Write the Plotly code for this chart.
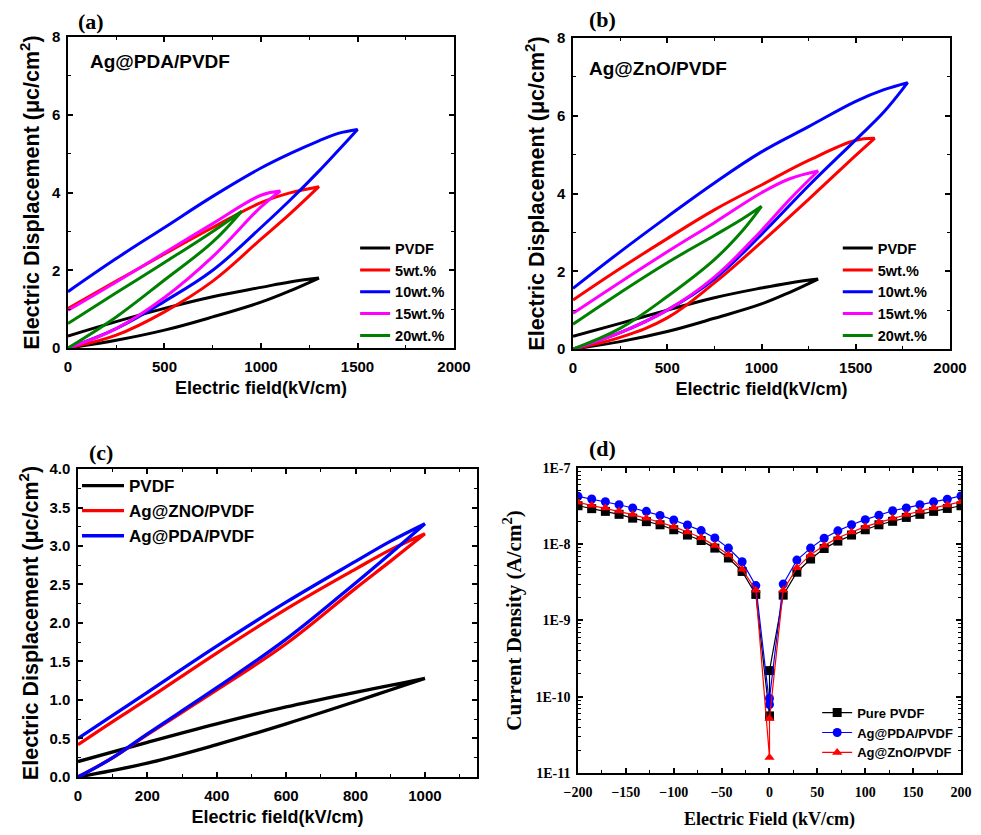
import plotly.graph_objects as go

# ---------------- Panel (a): Ag@PDA/PVDF hysteresis loops ----------------
A_PVDF_E = [0, 250, 500, 750, 1000, 1150, 1300]
A_PVDF_LO = [0, 0.2, 0.46, 0.8, 1.18, 1.47, 1.80]
A_PVDF_UP = [0.31, 0.68, 1.02, 1.32, 1.56, 1.70, 1.80]

A_5_E = [0, 250, 500, 750, 1000, 1150, 1300]
A_5_LO = [0, 0.33, 0.93, 1.72, 2.8, 3.45, 4.15]
A_5_UP = [1.02, 1.72, 2.42, 3.1, 3.74, 3.99, 4.15]

A_10_E = [0, 250, 500, 750, 1000, 1150, 1300, 1400, 1500]
A_10_LO = [0, 0.5, 1.2, 2.0, 3.1, 3.8, 4.55, 5.08, 5.62]
A_10_UP = [1.45, 2.3, 3.1, 3.9, 4.63, 5.0, 5.33, 5.52, 5.62]

A_15_E = [0, 250, 500, 750, 1000, 1100]
A_15_LO = [0, 0.5, 1.3, 2.35, 3.63, 4.04]
A_15_UP = [0.97, 1.7, 2.45, 3.2, 3.93, 4.04]

A_20_E = [0, 250, 500, 750, 900]
A_20_LO = [0, 0.8, 1.75, 2.73, 3.52]
A_20_UP = [0.63, 1.42, 2.2, 3.0, 3.52]

# ---------------- Panel (b): Ag@ZnO/PVDF hysteresis loops ----------------
B_PVDF_E = [0, 250, 500, 750, 1000, 1150, 1300]
B_PVDF_LO = [0, 0.19, 0.45, 0.79, 1.16, 1.46, 1.80]
B_PVDF_UP = [0.33, 0.66, 1.0, 1.32, 1.57, 1.70, 1.80]

B_5_E = [0, 250, 500, 750, 1000, 1250, 1500, 1600]
B_5_LO = [0, 0.3, 0.8, 1.7, 2.75, 3.85, 4.98, 5.42]
B_5_UP = [1.26, 2.07, 2.84, 3.58, 4.22, 4.85, 5.37, 5.42]

B_10_E = [0, 250, 500, 750, 1000, 1250, 1500, 1650, 1775]
B_10_LO = [0, 0.42, 1.0, 1.8, 2.95, 4.2, 5.38, 6.1, 6.85]
B_10_UP = [1.56, 2.5, 3.4, 4.27, 5.07, 5.72, 6.37, 6.67, 6.85]

B_15_E = [0, 250, 500, 750, 1000, 1150, 1300]
B_15_LO = [0, 0.42, 1.0, 1.85, 3.05, 3.85, 4.58]
B_15_UP = [0.92, 1.72, 2.5, 3.25, 4.02, 4.38, 4.58]

B_20_E = [0, 250, 500, 750, 900, 1000]
B_20_LO = [0, 0.53, 1.35, 2.3, 3.05, 3.67]
B_20_UP = [0.64, 1.45, 2.22, 2.92, 3.35, 3.67]

# ---------------- Panel (c): comparison at 1000 kV/cm ----------------
C_PVDF_E = [0, 200, 400, 600, 800, 900, 1000]
C_PVDF_LO = [0, 0.18, 0.42, 0.69, 0.98, 1.13, 1.28]
C_PVDF_UP = [0.2, 0.45, 0.69, 0.91, 1.1, 1.19, 1.28]

C_ZNO_E = [0, 100, 200, 400, 600, 800, 900, 1000]
C_ZNO_LO = [0, 0.25, 0.55, 1.13, 1.73, 2.45, 2.8, 3.16]
C_ZNO_UP = [0.42, 0.72, 1.01, 1.61, 2.18, 2.7, 2.95, 3.16]

C_PDA_E = [0, 100, 200, 400, 600, 800, 900, 1000]
C_PDA_LO = [0, 0.25, 0.56, 1.16, 1.79, 2.52, 2.9, 3.29]
C_PDA_UP = [0.5, 0.8, 1.1, 1.7, 2.27, 2.8, 3.06, 3.29]

# ---------------- Panel (d): leakage current density ----------------
D_FIELD = [-200, -185.7, -171.4, -157.1, -142.9, -128.6, -114.3, -100, -85.7, -71.4,
           -57.1, -42.9, -28.6, -14.3, 0, 0, 14.3, 28.6, 42.9, 57.1, 71.4, 85.7, 100,
           114.3, 128.6, 142.9, 157.1, 171.4, 185.7, 200]
D_PURE = [3.2e-8, 2.93e-8, 2.7e-8, 2.47e-8, 2.2e-8, 1.98e-8, 1.8e-8, 1.55e-8, 1.32e-8, 1.12e-8,
          8.9e-9, 6.6e-9, 4.4e-9, 2.2e-9, 5.6e-11, 2.2e-10, 2.15e-9, 4.3e-9, 6.4e-9, 8.8e-9,
          1.1e-8, 1.32e-8, 1.55e-8, 1.8e-8, 2.0e-8, 2.25e-8, 2.47e-8, 2.7e-8, 2.95e-8, 3.2e-8]
D_PDA = [4.25e-8, 3.92e-8, 3.61e-8, 3.30e-8, 2.99e-8, 2.70e-8, 2.39e-8, 2.08e-8, 1.79e-8, 1.51e-8,
         1.21e-8, 8.9e-9, 5.9e-9, 2.87e-9, 7.9e-11, 9.5e-11, 3.0e-9, 6.2e-9, 8.9e-9, 1.2e-8,
         1.5e-8, 1.8e-8, 2.1e-8, 2.4e-8, 2.75e-8, 3.0e-8, 3.3e-8, 3.6e-8, 3.9e-8, 4.3e-8]
D_ZNO = [3.55e-8, 3.24e-8, 3.0e-8, 2.73e-8, 2.45e-8, 2.19e-8, 1.94e-8, 1.7e-8, 1.45e-8, 1.22e-8,
         9.6e-9, 7.3e-9, 4.7e-9, 2.5e-9, 1.6e-11, 5.2e-11, 2.5e-9, 4.9e-9, 7.3e-9, 9.6e-9,
         1.22e-8, 1.45e-8, 1.7e-8, 1.94e-8, 2.19e-8, 2.45e-8, 2.73e-8, 3.0e-8, 3.27e-8, 3.6e-8]
D_TICKVALS = [1e-11, 1e-10, 1e-9, 1e-8, 1e-7]
D_TICKTEXT = ["1E-11", "1E-10", "1E-9", "1E-8", "1E-7"]

SANS = "Liberation Sans, Arial, sans-serif"
SERIF = "Liberation Serif, Times New Roman, serif"

fig = go.Figure()


def loop(E, lo, up):
    return list(E) + list(E[::-1]), list(lo) + list(up[::-1])


def add_loop(E, lo, up, name, color, xa, ya, leg, width=3):
    x, y = loop(E, lo, up)
    fig.add_trace(go.Scatter(x=x, y=y, mode="lines", name=name,
                             line=dict(color=color, width=width, shape="spline", smoothing=1.1),
                             xaxis=xa, yaxis=ya, legend=leg))


add_loop(A_PVDF_E, A_PVDF_LO, A_PVDF_UP, "PVDF", "black", "x", "y", "legend")
add_loop(A_5_E, A_5_LO, A_5_UP, "5wt.%", "#ff0000", "x", "y", "legend")
add_loop(A_10_E, A_10_LO, A_10_UP, "10wt.%", "#0000ff", "x", "y", "legend")
add_loop(A_15_E, A_15_LO, A_15_UP, "15wt.%", "#ff00ff", "x", "y", "legend")
add_loop(A_20_E, A_20_LO, A_20_UP, "20wt.%", "#008000", "x", "y", "legend")

add_loop(B_PVDF_E, B_PVDF_LO, B_PVDF_UP, "PVDF", "black", "x2", "y2", "legend2")
add_loop(B_5_E, B_5_LO, B_5_UP, "5wt.%", "#ff0000", "x2", "y2", "legend2")
add_loop(B_10_E, B_10_LO, B_10_UP, "10wt.%", "#0000ff", "x2", "y2", "legend2")
add_loop(B_15_E, B_15_LO, B_15_UP, "15wt.%", "#ff00ff", "x2", "y2", "legend2")
add_loop(B_20_E, B_20_LO, B_20_UP, "20wt.%", "#008000", "x2", "y2", "legend2")

add_loop(C_PVDF_E, C_PVDF_LO, C_PVDF_UP, "PVDF", "black", "x3", "y3", "legend3", 3.3)
add_loop(C_ZNO_E, C_ZNO_LO, C_ZNO_UP, "Ag@ZNO/PVDF", "#ff0000", "x3", "y3", "legend3", 3.3)
add_loop(C_PDA_E, C_PDA_LO, C_PDA_UP, "Ag@PDA/PVDF", "#0000ff", "x3", "y3", "legend3", 3.3)

for name, vals, color, sym in [("Pure PVDF", D_PURE, "black", "square"),
                               ("Ag@PDA/PVDF", D_PDA, "#0000ff", "circle"),
                               ("Ag@ZnO/PVDF", D_ZNO, "#ff0000", "triangle-up")]:
    fig.add_trace(go.Scatter(x=D_FIELD, y=vals, mode="lines+markers", name=name,
                             line=dict(color=color, width=1.2),
                             marker=dict(symbol=sym, size=9, color=color),
                             xaxis="x4", yaxis="y4", legend="legend4"))

axis_common = dict(showline=True, linecolor="black", linewidth=1.5, mirror="allticks",
                   ticks="inside", ticklen=5, tickwidth=1.5, tickcolor="black",
                   showgrid=False, zeroline=False, automargin=False,
                   minor=dict(ticks="inside", ticklen=3, tickwidth=1.2, tickcolor="black", showgrid=False))

sans_tick = dict(family=SANS, size=15, color="black", weight="bold")
serif_tick = dict(family=SERIF, size=14, color="black", weight="bold")
ytitle = "Electric Displacement (μc/cm<sup>2</sup>)"
XT = dict(family=SANS, size=18, color="black", weight="bold")
YT = dict(family=SANS, size=21.5, color="black", weight="bold")


def ann(text, x, y, font, xanchor="center"):
    return dict(text=text, x=x, y=y, xref="paper", yref="paper", xanchor=xanchor,
                yanchor="middle", showarrow=False, font=font)


LBL = dict(family=SERIF, size=22, color="black", weight="bold")
INNER = dict(family=SANS, size=19, color="black", weight="bold")

fig.update_layout(
    width=981, height=835, margin=dict(l=0, r=0, t=0, b=0, autoexpand=False),
    paper_bgcolor="white", plot_bgcolor="white", font=dict(color="black", family=SANS),
    xaxis=dict(axis_common, domain=[0.0693, 0.4628], range=[0, 2000], dtick=500, tick0=0,
               minor=dict(axis_common["minor"], dtick=250), tickfont=sans_tick, anchor="y",
               ticklabelstandoff=4,
               title=dict(text="Electric field(kV/cm)", font=XT, standoff=8)),
    yaxis=dict(axis_common, domain=[0.5832, 0.9557], range=[0, 8], dtick=2, tick0=0,
               minor=dict(axis_common["minor"], dtick=1), tickfont=sans_tick, anchor="x",
               ticklabelstandoff=3,
               title=dict(text=ytitle, font=YT, standoff=6)),
    xaxis2=dict(axis_common, domain=[0.5841, 0.9684], range=[0, 2000], dtick=500, tick0=0,
                minor=dict(axis_common["minor"], dtick=250), tickfont=sans_tick, anchor="y2",
                ticklabelstandoff=4,
                title=dict(text="Electric field(kV/cm)", font=XT, standoff=8)),
    yaxis2=dict(axis_common, domain=[0.582, 0.9545], range=[0, 8], dtick=2, tick0=0,
                minor=dict(axis_common["minor"], dtick=1), tickfont=sans_tick, anchor="x2",
                ticklabelstandoff=3,
                title=dict(text=ytitle, font=YT, standoff=6)),
    xaxis3=dict(axis_common, domain=[0.0795, 0.4862], range=[0, 1150], dtick=200, tick0=0,
                minor=dict(axis_common["minor"], dtick=100), tickfont=sans_tick, anchor="y3",
                ticklabelstandoff=4,
                title=dict(text="Electric field(kV/cm)", font=XT, standoff=8)),
    yaxis3=dict(axis_common, domain=[0.0695, 0.4383], range=[0, 4], dtick=0.5, tick0=0, tickformat=".1f",
                minor=dict(axis_common["minor"], dtick=0.25), tickfont=sans_tick, anchor="x3",
                ticklabelstandoff=3,
                title=dict(text=ytitle, font=YT, standoff=5)),
    xaxis4=dict(axis_common, domain=[0.5892, 0.9796], range=[-200, 200], dtick=50, tick0=0,
                minor=dict(axis_common["minor"], dtick=25), tickfont=serif_tick, anchor="y4",
                ticklabelstandoff=5,
                title=dict(text="Electric Field (kV/cm)", font=dict(family=SERIF, size=18, color="black", weight="bold"), standoff=14)),
    yaxis4=dict(axis_common, domain=[0.0743, 0.4395], type="log", range=[-11, -7],
                tickmode="array", tickvals=D_TICKVALS, ticktext=D_TICKTEXT,
                minor=dict(axis_common["minor"], tickmode="array",
                           tickvals=[m * 10 ** e for e in range(-11, -7) for m in range(2, 10)]),
                tickfont=serif_tick, anchor="x4", ticklabelstandoff=3,
                title=dict(text="Current Density (A/cm<sup>2</sup>)", font=dict(family=SERIF, size=21, color="black", weight="bold"), standoff=8)),
    legend=dict(x=0.362, y=0.722, xanchor="left", yanchor="top", bgcolor="rgba(0,0,0,0)",
                font=dict(family=SANS, size=14.5, color="black", weight="bold"), tracegroupgap=0),
    legend2=dict(x=0.854, y=0.722, xanchor="left", yanchor="top", bgcolor="rgba(0,0,0,0)",
                 font=dict(family=SANS, size=14.5, color="black", weight="bold"), tracegroupgap=0),
    legend3=dict(x=0.0785, y=0.4395, xanchor="left", yanchor="top", bgcolor="rgba(0,0,0,0)",
                 font=dict(family=SANS, size=17, color="black", weight="bold"), tracegroupgap=0,
                 itemwidth=42),
    legend4=dict(x=0.833, y=0.1645, xanchor="left", yanchor="top", bgcolor="rgba(0,0,0,0)",
                 font=dict(family=SANS, size=13, color="black", weight="bold"), tracegroupgap=0),
    annotations=[
        ann("(a)", 0.0928, 1 - 21 / 835, LBL),
        ann("(b)", 0.6137, 1 - 19 / 835, LBL),
        ann("(c)", 0.103, 1 - 452 / 835, LBL),
        ann("(d)", 0.6137, 1 - 448 / 835, LBL),
        ann("Ag@PDA/PVDF", 0.0897, 1 - 62 / 835, INNER, "left"),
        ann("Ag@ZnO/PVDF", 0.598, 1 - 68 / 835, INNER, "left"),
    ],
)

fig.write_html("out.html")
